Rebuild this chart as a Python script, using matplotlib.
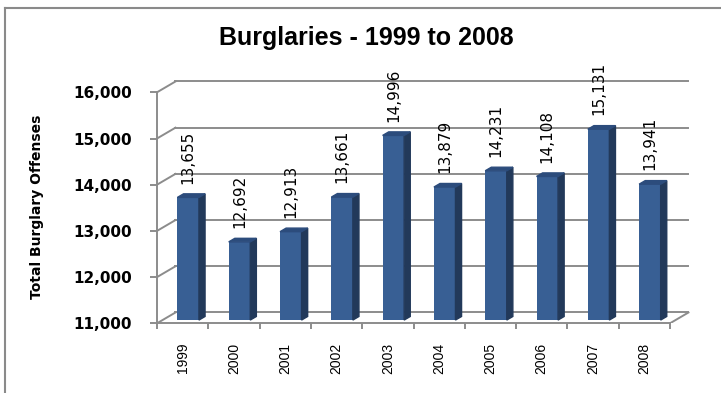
import numpy as np
import matplotlib.pyplot as plt
from matplotlib.patches import Polygon
from matplotlib.lines import Line2D

# data
years = ['1999', '2000', '2001', '2002', '2003', '2004', '2005', '2006', '2007', '2008']
burglaries = [13655, 12692, 12913, 13661, 14996, 13879, 14231, 14108, 15131, 13941]
yticks = [11000, 12000, 13000, 14000, 15000, 16000]

# 3d look: depth offset of back wall in data units
DX = 0.36
DY = 234
f0 = 0.30   # bar front face depth
f1 = 0.63   # bar back face depth
bw = 0.42
grid_c = '#8c8c8c'
front_c = '#385F94'
side_c = '#22395A'
top_c = '#2C4C7C'

fig = plt.figure(figsize=(7.21, 3.93), dpi=100)
W, H = 721., 393.
x0, xpx = 157.0, 51.3
y0, ypx = 323.3, 0.0462
xlo, xhi = -0.5, 9.9
ylo, yhi = 11000, 16300
ax = fig.add_axes([x0/W, (H-y0)/H, (xhi-xlo)*xpx/W, (yhi-ylo)*ypx/H])
ax.set_xlim(xlo, xhi)
ax.set_ylim(ylo, yhi)
ax.patch.set_visible(False)

x = np.arange(len(years))
vals = np.array(burglaries)

# walls and gridlines
for v in yticks:
    ax.plot([-0.5 + DX, 9.5 + DX], [v + DY, v + DY], color=grid_c, lw=1.4, zorder=1)
    ax.plot([-0.5, -0.5 + DX], [v, v + DY], color=grid_c, lw=1.4, zorder=1)
ax.plot([9.5, 9.5 + DX], [11000, 11000 + DY], color=grid_c, lw=1.4, zorder=1)

# bars
bot = 11000 + f0*DY
ax.bar(x + f0*DX, vals - 11000, bottom=bot, width=bw, color=front_c, zorder=3)
d = f1 - f0
for xi, v in zip(x, vals):
    xl = xi + f0*DX - bw/2
    xr = xi + f0*DX + bw/2
    top = v + f0*DY
    ax.add_patch(Polygon([(xr, bot), (xr + d*DX, bot + d*DY), (xr + d*DX, top + d*DY), (xr, top)],
                         closed=True, color=side_c, zorder=3))
    ax.add_patch(Polygon([(xl, top), (xr, top), (xr + d*DX, top + d*DY), (xl + d*DX, top + d*DY)],
                         closed=True, color=top_c, zorder=3))
    ax.annotate(f'{v:,}', (xi + f0*DX, top), xytext=(0, 10), textcoords='offset points',
                rotation=90, ha='center', va='bottom', fontsize=11,
                family='DejaVu Sans', zorder=4, annotation_clip=False)

# axes
for s in ['top', 'right']:
    ax.spines[s].set_visible(False)
ax.spines['left'].set_bounds(11000, 16000)
ax.spines['bottom'].set_bounds(-0.5, 9.5)
ax.spines['left'].set_color(grid_c)
ax.spines['bottom'].set_color(grid_c)
ax.spines['left'].set_linewidth(1.4)
ax.spines['bottom'].set_linewidth(1.4)

ax.set_yticks(yticks)
ax.set_yticklabels([f'{v:,}' for v in yticks], fontsize=11, fontweight='bold', family='DejaVu Sans')
ax.tick_params(axis='y', length=5, width=1.4, color=grid_c, pad=13)

ax.set_xticks(np.arange(-0.5, 10, 1))
ax.set_xticklabels([])
ax.set_xticks(x, minor=True)
ax.set_xticklabels(years, minor=True, rotation=90, va='top')
ax.tick_params(axis='x', which='major', length=4, width=1.4, color=grid_c)
ax.tick_params(axis='x', which='minor', length=0, pad=14, labelsize=10,
               labelfontfamily='Liberation Sans')

ax.set_ylabel('Total Burglary Offenses', fontsize=10, fontweight='bold', family='DejaVu Sans')
ax.yaxis.set_label_coords((44 - x0)/((xhi-xlo)*xpx), (y0 - 207)/((yhi-ylo)*ypx))

fig.text(366/W, (H-45)/H, 'Burglaries - 1999 to 2008', ha='center', va='baseline',
         fontsize=18, fontweight='bold', family='Liberation Sans')

# chart border
fig.add_artist(Line2D([5/W, 5/W], [0, 1 - 8/H], color='#8a8a8a', lw=1.5))
fig.add_artist(Line2D([5/W, 1], [1 - 8/H, 1 - 8/H], color='#8a8a8a', lw=1.5))

plt.savefig('out.png', dpi=100)
